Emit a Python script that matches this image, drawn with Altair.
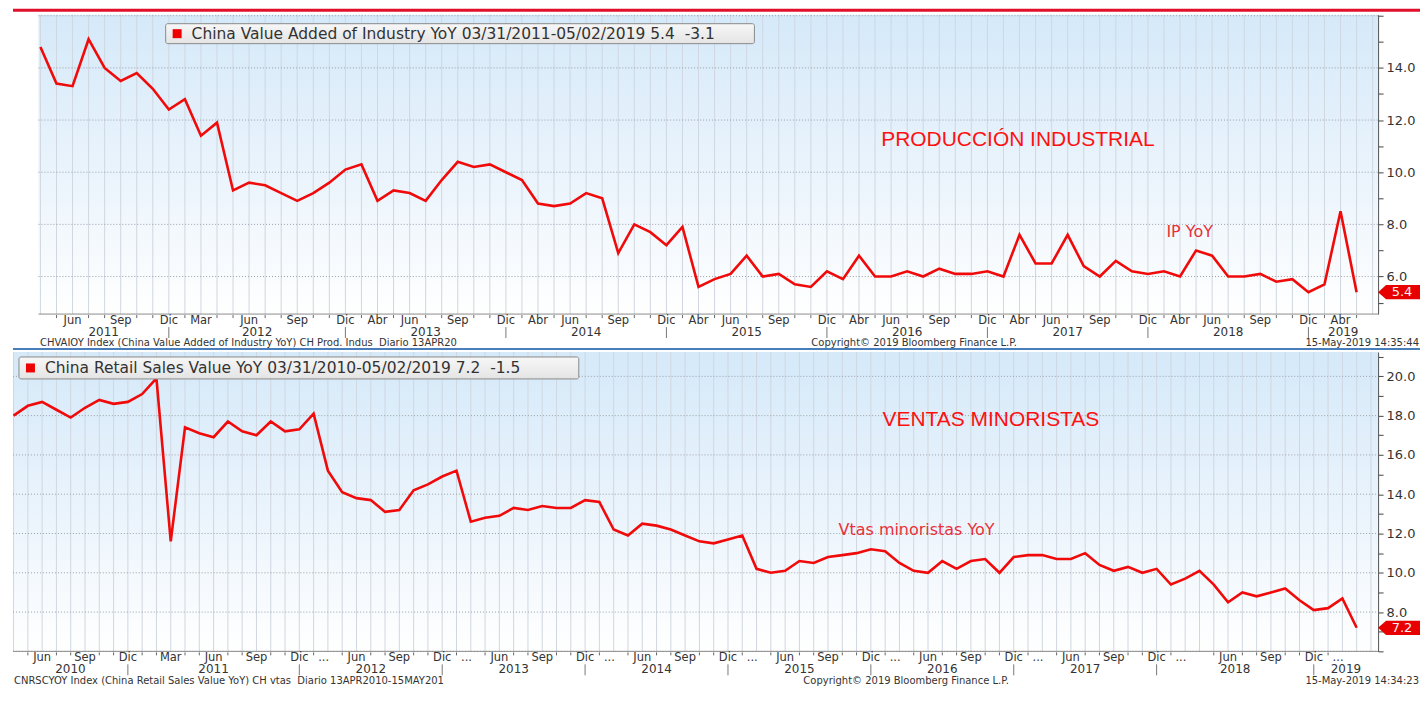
import altair as alt
import pandas as pd

# ---------------- data ----------------
IP_MONTHS = {
    2011: [3, 4, 5, 6, 7, 8, 9, 10, 11, 12],
    2012: [2, 3, 4, 5, 6, 7, 8, 9, 10, 11, 12],
    2013: [3, 4, 5, 6, 7, 8, 9, 10, 11, 12],
    2014: [3, 4, 5, 6, 7, 8, 9, 10, 11, 12],
    2015: [3, 4, 5, 6, 7, 8, 9, 10, 11, 12],
    2016: [3, 4, 5, 6, 7, 8, 9, 10, 11, 12],
    2017: [3, 4, 5, 6, 7, 8, 9, 10, 11, 12],
    2018: [3, 4, 5, 6, 7, 8, 9, 10, 11, 12],
    2019: [3, 4],
}
IP_VALUES = [
    14.8, 13.4, 13.3, 15.1, 14.0, 13.5, 13.8, 13.2, 12.4, 12.8,
    11.4, 11.9, 9.3, 9.6, 9.5, 9.2, 8.9, 9.2, 9.6, 10.1, 10.3,
    8.9, 9.3, 9.2, 8.9, 9.7, 10.4, 10.2, 10.3, 10.0, 9.7,
    8.8, 8.7, 8.8, 9.2, 9.0, 6.9, 8.0, 7.7, 7.2, 7.9,
    5.6, 5.9, 6.1, 6.8, 6.0, 6.1, 5.7, 5.6, 6.2, 5.9,
    6.8, 6.0, 6.0, 6.2, 6.0, 6.3, 6.1, 6.1, 6.2, 6.0,
    7.6, 6.5, 6.5, 7.6, 6.4, 6.0, 6.6, 6.2, 6.1, 6.2,
    6.0, 7.0, 6.8, 6.0, 6.0, 6.1, 5.8, 5.9, 5.4, 5.7,
    8.5, 5.4,
]
IP_LABEL_TEXT = [
    "Jun", "Sep", "Dic",
    "Mar", "Jun", "Sep", "Dic",
    "Abr", "Jun", "Sep", "Dic",
    "Abr", "Jun", "Sep", "Dic",
    "Abr", "Jun", "Sep", "Dic",
    "Abr", "Jun", "Sep", "Dic",
    "Abr", "Jun", "Sep", "Dic",
    "Abr", "Jun", "Sep", "Dic",
    "Abr",
]
IP_LABEL_PERIOD = [
    "2011-06", "2011-09", "2011-12",
    "2012-03", "2012-06", "2012-09", "2012-12",
    "2013-04", "2013-06", "2013-09", "2013-12",
    "2014-04", "2014-06", "2014-09", "2014-12",
    "2015-04", "2015-06", "2015-09", "2015-12",
    "2016-04", "2016-06", "2016-09", "2016-12",
    "2017-04", "2017-06", "2017-09", "2017-12",
    "2018-04", "2018-06", "2018-09", "2018-12",
    "2019-04",
]
IP_YEARS = ["2011", "2012", "2013", "2014", "2015", "2016", "2017", "2018", "2019"]
IP_Y_LABELS = [6, 8, 10, 12, 14]

RS_MONTHS = {
    2010: [3, 4, 5, 6, 7, 8, 9, 10, 11, 12],
    2011: [1, 2, 3, 4, 5, 6, 7, 8, 9, 10, 11, 12],
    2012: [3, 4, 5, 6, 7, 8, 9, 10, 11, 12],
    2013: [3, 4, 5, 6, 7, 8, 9, 10, 11, 12],
    2014: [3, 4, 5, 6, 7, 8, 9, 10, 11, 12],
    2015: [3, 4, 5, 6, 7, 8, 9, 10, 11, 12],
    2016: [3, 4, 5, 6, 7, 8, 9, 10, 11, 12],
    2017: [3, 4, 5, 6, 7, 8, 9, 10, 11, 12],
    2018: [2, 3, 4, 5, 6, 7, 8, 9, 10, 11, 12],
    2019: [3, 4],
}
RS_VALUES = [
    18.0, 18.5, 18.7, 18.3, 17.9, 18.4, 18.8, 18.6, 18.7, 19.1,
    19.9, 11.6, 17.4, 17.1, 16.9, 17.7, 17.2, 17.0, 17.7, 17.2, 17.3, 18.1,
    15.2, 14.1, 13.8, 13.7, 13.1, 13.2, 14.2, 14.5, 14.9, 15.2,
    12.6, 12.8, 12.9, 13.3, 13.2, 13.4, 13.3, 13.3, 13.7, 13.6,
    12.2, 11.9, 12.5, 12.4, 12.2, 11.9, 11.6, 11.5, 11.7, 11.9,
    10.2, 10.0, 10.1, 10.6, 10.5, 10.8, 10.9, 11.0, 11.2, 11.1,
    10.5, 10.1, 10.0, 10.6, 10.2, 10.6, 10.7, 10.0, 10.8, 10.9,
    10.9, 10.7, 10.7, 11.0, 10.4, 10.1, 10.3, 10.0, 10.2, 9.4,
    9.7, 10.1, 9.4, 8.5, 9.0, 8.8, 9.0, 9.2, 8.6, 8.1, 8.2,
    8.7, 7.2,
]
RS_LABEL_TEXT = [
    "Jun", "Sep", "Dic",
    "Mar", "Jun", "Sep", "Dic",
    "...", "Jun", "Sep", "Dic",
    "...", "Jun", "Sep", "Dic",
    "...", "Jun", "Sep", "Dic",
    "...", "Jun", "Sep", "Dic",
    "...", "Jun", "Sep", "Dic",
    "...", "Jun", "Sep", "Dic",
    "...", "Jun", "Sep", "Dic",
    "...",
]
RS_LABEL_PERIOD = [
    "2010-06", "2010-09", "2010-12",
    "2011-03", "2011-06", "2011-09", "2011-12",
    "2012-03", "2012-06", "2012-09", "2012-12",
    "2013-03", "2013-06", "2013-09", "2013-12",
    "2014-03", "2014-06", "2014-09", "2014-12",
    "2015-03", "2015-06", "2015-09", "2015-12",
    "2016-03", "2016-06", "2016-09", "2016-12",
    "2017-03", "2017-06", "2017-09", "2017-12",
    "2018-02", "2018-06", "2018-09", "2018-12",
    "2019-03",
]
RS_YEARS = ["2010", "2011", "2012", "2013", "2014", "2015", "2016", "2017", "2018", "2019"]
RS_Y_LABELS = [8, 10, 12, 14, 16, 18, 20]

IP_LEGEND = "China Value Added of Industry YoY 03/31/2011-05/02/2019 5.4\u00a0\u00a0-3.1"
RS_LEGEND = "China Retail Sales Value YoY 03/31/2010-05/02/2019 7.2\u00a0\u00a0-1.5"
IP_FOOTER = "CHVAIOY Index (China Value Added of Industry YoY) CH Prod. Indus\u00a0\u00a0Diario 13APR20"
RS_FOOTER = "CNRSCYOY Index (China Retail Sales Value YoY) CH vtas\u00a0\u00a0Diario 13APR2010-15MAY201"
COPYRIGHT = "Copyright\u00a9 2019 Bloomberg Finance L.P."
IP_STAMP = "15-May-2019 14:35:44"
RS_STAMP = "15-May-2019 14:34:23"

# ---------------- style ----------------
FONT = "DejaVu Sans"
LINE_RED = "#f00a0a"
W = 1368
H = 300
TOTAL_W = 1410

GRAD = alt.LinearGradient(
    gradient="linear", x1=0, x2=0, y1=0, y2=1,
    stops=[alt.GradientStop(color="#d5e9f9", offset=0),
           alt.GradientStop(color="#ebf4fc", offset=0.55),
           alt.GradientStop(color="#ffffff", offset=1)],
)
BOX_GRAD = alt.LinearGradient(
    gradient="linear", x1=0, x2=0, y1=0, y2=1,
    stops=[alt.GradientStop(color="#f7f7f7", offset=0),
           alt.GradientStop(color="#e4e4e4", offset=1)],
)


def one(**kw):
    return pd.DataFrame({k: [v] for k, v in kw.items()})


def panel(values, months, lab_text, lab_period, years, y_labels, x_dom, vis_start, y_dom,
          legend_text, legend_box, footer_left, footer_left_x, copy_x, stamp,
          big_text, big_at, small_text, small_at, first):
    periods = [f"{y}-{m:02d}" for y, ms in months.items() for m in ms]
    pidx = {p: i for i, p in enumerate(periods)}
    xs = alt.Scale(domain=x_dom, nice=False, zero=False)
    ys = alt.Scale(domain=y_dom, nice=False, zero=False)
    ylo, yhi = y_dom
    y_ticks = [v for v in range(int(ylo), int(yhi) + 1) if ylo <= v <= yhi]
    shown = "[" + ",".join(str(v) for v in y_labels) + "]"
    yaxis = alt.Axis(orient="right", values=y_ticks, grid=False, title=None,
                     labelExpr=f"indexof({shown}, datum.value) >= 0 ? format(datum.value, '.1f') : ''",
                     labelOverlap=False, labelFlush=False, labelBound=False,
                     tickSize=5, tickColor="#444", domainColor="#444",
                     labelColor="#333", labelFont=FONT, labelFontSize=13,
                     labelPadding=3)

    def X(f):
        return alt.X(f, type="quantitative", scale=xs, axis=None)

    def Y(f):
        return alt.Y(f, type="quantitative", scale=ys, axis=yaxis, title=None)

    df = pd.DataFrame({"idx": list(range(len(values))), "value": values})

    lab_pos = [pidx[p] - (0.3 if t == "..." else 1.0) for t, p in zip(lab_text, lab_period)]
    lab_df = pd.DataFrame({"t": lab_text, "pos": lab_pos})
    ticks = sorted({round(p + d, 3) for t, p in zip(lab_text, lab_pos) if t != "..." for d in (-1, 1)
                    if vis_start <= p + d <= x_dom[1]})
    tick_df = pd.DataFrame({"pos": ticks})
    seps = [p for t, p in zip(lab_text, lab_pos) if t == "Dic"]
    bounds = [vis_start] + seps + [x_dom[1]]
    year_df = pd.DataFrame({"t": years,
                            "pos": [(bounds[i] + bounds[i + 1]) / 2 for i in range(len(years))]})
    sep_df = pd.DataFrame({"pos": seps})

    hgrid = pd.DataFrame({"v": [v for v in y_ticks if v % 2 == 0]})
    hgrid["x0"] = vis_start
    hgrid["x1"] = x_dom[1]
    vgrid = pd.DataFrame({"pos": list(range(0, int(x_dom[1]) + 1))})

    layers = []
    layers.append(alt.Chart(one(x0=vis_start, x1=x_dom[1])).mark_rect(fill=GRAD).encode(
        x=X("x0"), x2=alt.X2("x1"), y=alt.value(0), y2=alt.value(H)))
    layers.append(alt.Chart(vgrid).mark_rule(color="#d0d7e0", strokeWidth=1).encode(
        x=X("pos"), y=alt.value(0), y2=alt.value(H)))
    layers.append(alt.Chart(hgrid).mark_rule(color="#9aa0a8", strokeWidth=1, strokeDash=[1, 2]).encode(
        x=X("x0"), x2=alt.X2("x1"), y=Y("v")))
    layers.append(alt.Chart(one(x0=vis_start, x1=x_dom[1])).mark_rule(color="#8c8c8c", strokeWidth=1).encode(
        x=X("x0"), x2=alt.X2("x1"), y=alt.value(H)))
    layers.append(alt.Chart(df).mark_line(color=LINE_RED, strokeWidth=2.6, strokeJoin="miter").encode(
        x=X("idx"), y=Y("value")))
    layers.append(alt.Chart(lab_df).mark_text(font=FONT, fontSize=11.5, color="#333",
                                              baseline="middle", align="center").encode(
        x=X("pos"), y=alt.value(H + 7), text="t:N"))
    layers.append(alt.Chart(tick_df).mark_rule(color="#666", strokeWidth=1).encode(
        x=X("pos"), y=alt.value(H + 1), y2=alt.value(H + 4)))
    layers.append(alt.Chart(year_df).mark_text(font=FONT, fontSize=12, color="#333",
                                               baseline="middle", align="center").encode(
        x=X("pos"), y=alt.value(H + 18), text="t:N"))
    layers.append(alt.Chart(sep_df).mark_rule(color="#777", strokeWidth=1).encode(
        x=X("pos"), y=alt.value(H + 13), y2=alt.value(H + 24)))
    foot_y = H + 29 if first else H + 30
    layers.append(alt.Chart(one(t=footer_left)).mark_text(font=FONT, fontSize=10,
                                                          color="#333", align="left", baseline="middle").encode(
        x=alt.value(footer_left_x), y=alt.value(foot_y), text="t:N"))
    layers.append(alt.Chart(one(t=COPYRIGHT)).mark_text(font=FONT, fontSize=10,
                                                        color="#333", align="center", baseline="middle").encode(
        x=alt.value(copy_x), y=alt.value(foot_y), text="t:N"))
    layers.append(alt.Chart(one(t=stamp)).mark_text(font=FONT, fontSize=10,
                                                    color="#333", align="right", baseline="middle").encode(
        x=alt.value(TOTAL_W - 1), y=alt.value(foot_y), text="t:N"))
    bx0, bx1, by0, by1 = legend_box
    cy = (by0 + by1) / 2
    layers.append(alt.Chart(one(a=1)).mark_rect(fill=BOX_GRAD, stroke="#8a8a8a", strokeWidth=1,
                                                cornerRadius=2).encode(
        x=alt.value(bx0), x2=alt.value(bx1), y=alt.value(by0), y2=alt.value(by1)))
    layers.append(alt.Chart(one(a=1)).mark_rect(fill="#ee0000").encode(
        x=alt.value(bx0 + 7), x2=alt.value(bx0 + 16), y=alt.value(cy - 4.5), y2=alt.value(cy + 4.5)))
    layers.append(alt.Chart(one(t=legend_text)).mark_text(font=FONT, fontSize=15.5,
                                                          color="#333", align="left", baseline="middle").encode(
        x=alt.value(bx0 + 26), y=alt.value(cy + 0.5), text="t:N"))
    layers.append(alt.Chart(one(x=big_at[0], y=big_at[1], t=big_text)).mark_text(
        font="Liberation Sans", fontSize=21, color="#ff1010", align="center", baseline="middle").encode(
        x=X("x"), y=Y("y"), text="t:N"))
    layers.append(alt.Chart(one(x=small_at[0], y=small_at[1], t=small_text)).mark_text(
        font=FONT, fontSize=small_at[2], color="#e8303a", align="center",
        baseline="middle").encode(x=X("x"), y=Y("y"), text="t:N"))
    last = values[-1]
    layers.append(alt.Chart(one(v=last)).mark_point(
        shape="M -1 0 L -0.62 -0.34 L 1 -0.34 L 1 0.34 L -0.62 0.34 Z",
        size=1764, filled=True, color="#e80000", opacity=1, strokeWidth=0).encode(
        x=alt.value(W + 21), y=Y("v")))
    layers.append(alt.Chart(one(v=last, t=f"{last:.1f}")).mark_text(
        font=FONT, fontSize=13, color="#fff0f0", align="center", baseline="middle").encode(
        x=alt.value(W + 24), y=Y("v"), text="t:N"))
    if first:
        layers.append(alt.Chart(one(a=1)).mark_rect(fill="#e0102a").encode(
            x=alt.value(0), x2=alt.value(TOTAL_W), y=alt.value(-6), y2=alt.value(-3)))
        layers.append(alt.Chart(one(a=1)).mark_rect(fill="#4a7ebb").encode(
            x=alt.value(0), x2=alt.value(TOTAL_W), y=alt.value(H + 34), y2=alt.value(H + 36)))
    return alt.layer(*layers).properties(width=W, height=H)


top = panel(IP_VALUES, IP_MONTHS, IP_LABEL_TEXT, IP_LABEL_PERIOD, IP_YEARS, IP_Y_LABELS,
            x_dom=[-1.71, 83.34], vis_start=-0.12, y_dom=[4.56, 16.04],
            legend_text=IP_LEGEND, legend_box=(153, 743, 9, 29),
            footer_left=IP_FOOTER, footer_left_x=27, copy_x=903, stamp=IP_STAMP,
            big_text="PRODUCCIÓN INDUSTRIAL", big_at=(60.9, 11.22),
            small_text="IP YoY", small_at=(71.6, 7.7, 16), first=True)

bottom = panel(RS_VALUES, RS_MONTHS, RS_LABEL_TEXT, RS_LABEL_PERIOD, RS_YEARS, RS_Y_LABELS,
               x_dom=[-0.04, 95.5], vis_start=-0.04, y_dom=[6.0, 21.24],
               legend_text=RS_LEGEND, legend_box=(6, 567, 5, 27),
               footer_left=RS_FOOTER, footer_left_x=1, copy_x=895, stamp=RS_STAMP,
               big_text="VENTAS MINORISTAS", big_at=(68.4, 17.77),
               small_text="Vtas minoristas YoY", small_at=(63.2, 12.18, 16), first=False)

chart = alt.vconcat(top, bottom, spacing=38, bounds="flush").properties(padding=0).configure_view(strokeWidth=0)

chart.save("out.html", embed_options={"renderer": "svg", "actions": False})
